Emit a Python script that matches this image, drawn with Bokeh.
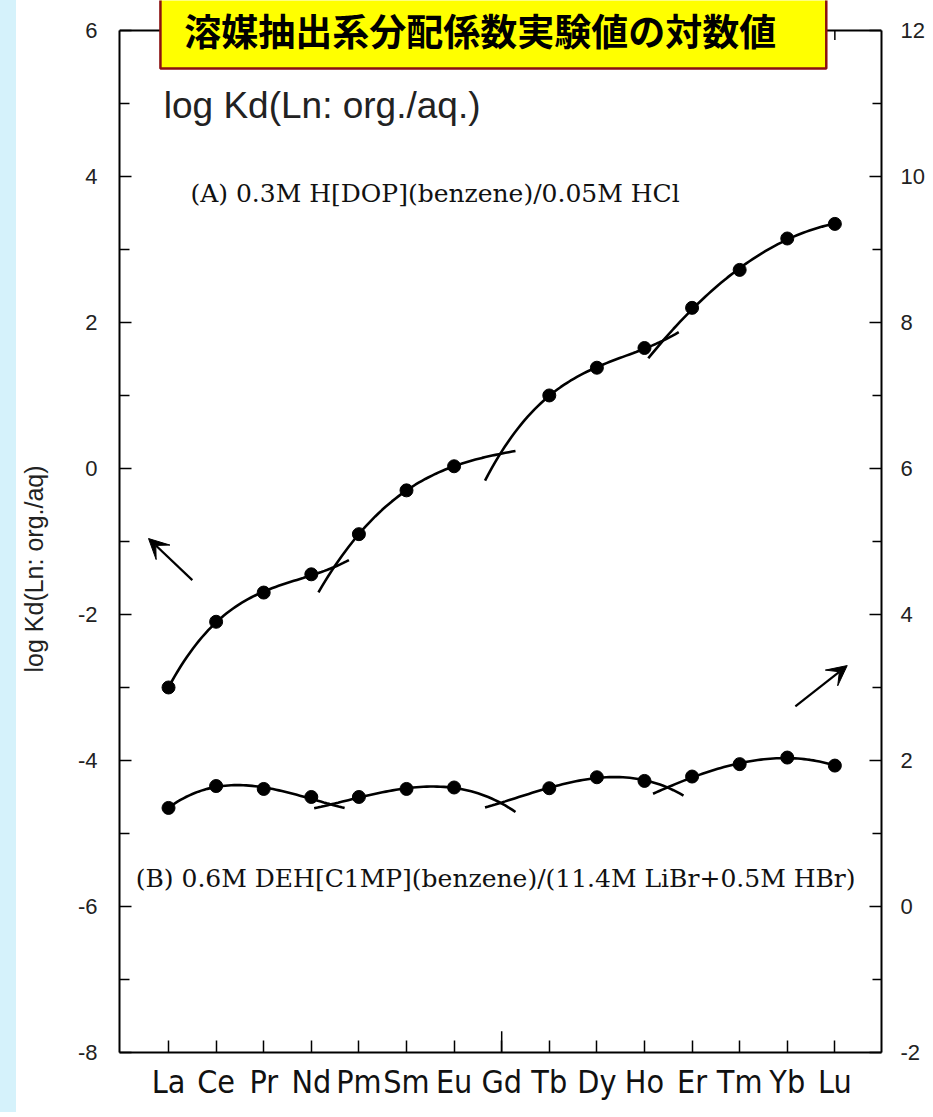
import numpy as np
from bokeh.plotting import figure
from bokeh.models import (Range1d, LinearAxis, FixedTicker, Arrow, VeeHead,
                          Label, Spacer, Title)
from bokeh.layouts import row
from bokeh.embed import file_html
from bokeh.resources import INLINE

# ---------------- data ----------------
elements = ["La", "Ce", "Pr", "Nd", "Pm", "Sm", "Eu", "Gd",
            "Tb", "Dy", "Ho", "Er", "Tm", "Yb", "Lu"]
# (A) 0.3M H[DOP](benzene)/0.05M HCl  -> left axis
logkd_A = [-3.00, -2.10, -1.70, -1.45, -0.90, -0.30, 0.03, np.nan,
           1.00, 1.38, 1.65, 2.20, 2.72, 3.15, 3.35]
# (B) 0.6M DEH[C1MP](benzene)/(11.4M LiBr+0.5M HBr) -> right axis
logkd_B = [1.35, 1.65, 1.61, 1.50, 1.50, 1.61, 1.63, np.nan,
           1.62, 1.77, 1.72, 1.78, 1.95, 2.04, 1.93]
# tetrad groups (index ranges, inclusive)
tetrads = [(0, 3), (4, 7), (7, 10), (11, 14)]
# crossing points of neighbouring tetrad curves (x index, value)
nodes_A = [(3.47, -1.36), (6.97, 0.20), (10.40, 1.75)]
nodes_B = [(3.38, 1.39), (6.97, 1.42), (10.50, 1.63)]

left_ticks = [-8, -6, -4, -2, 0, 2, 4, 6]
left_minor = [-7, -5, -3, -1, 1, 3, 5]
right_ticks = [-2, 0, 2, 4, 6, 8, 10, 12]
right_minor = [-1, 1, 3, 5, 7, 9, 11]

title_jp = "溶媒抽出系分配係数実験値の対数値"
inner_title = "log Kd(Ln: org./aq.)"
y_label = "log Kd(Ln: org./aq)"
label_A = "(A)   0.3M H[DOP](benzene)/0.05M HCl"
label_B = "(B)  0.6M DEH[C1MP](benzene)/(11.4M LiBr+0.5M HBr)"

SANS = "Liberation Sans"
NARROW = "'Liberation Sans Narrow', 'DejaVu Sans Condensed', 'Liberation Sans', sans-serif"

# ---------------- figure ----------------
X0, X1 = -1.03, 14.98
p = figure(width=917, height=1112, output_backend="svg", toolbar_location=None,
           x_range=Range1d(X0, X1), y_range=Range1d(-8, 6.41),
           min_border_left=103, min_border_right=52, min_border_top=0,
           min_border_bottom=60, outline_line_color=None,
           background_fill_color="white", border_fill_color="white")
p.xgrid.visible = False
p.ygrid.visible = False
p.extra_y_ranges = {"right": Range1d(-2, 12.41)}

# bottom axis
xa = p.xaxis[0]
xa.ticker = FixedTicker(ticks=list(range(len(elements))))
xa.major_label_overrides = {i: e for i, e in enumerate(elements)}
xa.major_tick_in = 12
xa.major_tick_out = 0
xa.minor_tick_line_color = None
xa.axis_line_width = 2
xa.major_tick_line_width = 1.5
xa.major_label_text_font = NARROW
xa.major_label_text_font_size = "32px"
xa.major_label_text_color = "#111111"
xa.major_label_standoff = 10

# left axis
ya = p.yaxis[0]
ya.bounds = (-8, 6)
ya.ticker = FixedTicker(ticks=left_ticks, minor_ticks=left_minor)
ya.major_label_overrides = {t: str(t) for t in left_ticks}
ya.major_tick_in = 12
ya.major_tick_out = 0
ya.minor_tick_in = 10
ya.minor_tick_out = 0
ya.axis_line_width = 2
ya.major_tick_line_width = 1.5
ya.minor_tick_line_width = 1.5
ya.major_label_text_font = SANS
ya.major_label_text_font_size = "22px"
ya.major_label_text_color = "#222222"
ya.major_label_standoff = 22
# blank axis label only reserves room, pushing the side title outward
ya.axis_label = " "
ya.axis_label_text_font_size = "1px"
ya.axis_label_standoff = 22

# right axis
ra = LinearAxis(y_range_name="right", bounds=(-2, 12),
                ticker=FixedTicker(ticks=right_ticks, minor_ticks=right_minor))
ra.major_label_overrides = {t: str(t) for t in right_ticks}
ra.major_tick_in = 12
ra.major_tick_out = 0
ra.minor_tick_in = 9
ra.minor_tick_out = 0
ra.axis_line_width = 2
ra.major_tick_line_width = 1.5
ra.minor_tick_line_width = 1.5
ra.major_label_text_font = SANS
ra.major_label_text_font_size = "22px"
ra.major_label_text_color = "#222222"
ra.major_label_standoff = 19
p.add_layout(ra, "right")

# vertical axis title, as a left-side title placed like the original
p.add_layout(Title(text=y_label, align="left", offset=380, standoff=2,
                   text_font=SANS, text_font_size="25px",
                   text_font_style="normal", text_color="#222222"), "left")

# top frame line and its ticks
xs_el = list(range(len(elements)))
p.segment(x0=[X0], y0=[6], x1=[X1], y1=[6], line_color="black", line_width=2)
p.segment(x0=xs_el, y0=[6] * len(xs_el), x1=xs_el, y1=[6 - 0.13] * len(xs_el),
          line_color="black", line_width=1.5)
# longer tick at Gd on bottom axis
gd = elements.index("Gd")
p.segment(x0=[gd], y0=[-8], x1=[gd], y1=[-8 + 0.29], line_color="black",
          line_width=1.5)


def tetrad_curves(vals, nodes, ext=0.32):
    curves_x, curves_y = [], []
    for k, (a, b) in enumerate(tetrads):
        px = [i for i in range(a, b + 1) if not np.isnan(vals[i])]
        py = [vals[i] for i in px]
        start, end = float(px[0]), float(px[-1])
        if k > 0:
            nx, ny = nodes[k - 1]
            px = [nx] + px
            py = [ny] + py
            start = nx - ext
        if k < len(tetrads) - 1:
            nx, ny = nodes[k]
            px = px + [nx]
            py = py + [ny]
            end = nx + ext
        deg = 3 if len(px) >= 5 else 2
        coef = np.polyfit(px, py, deg)
        xx = np.linspace(start, end, 60)
        curves_x.append(list(xx))
        curves_y.append(list(np.polyval(coef, xx)))
    return curves_x, curves_y


cxA, cyA = tetrad_curves(logkd_A, nodes_A)
cxB, cyB = tetrad_curves(logkd_B, nodes_B)
p.multi_line(cxA, cyA, line_color="black", line_width=2.6)
p.multi_line(cxB, cyB, line_color="black", line_width=2.6, y_range_name="right")

p.scatter(xs_el, logkd_A, size=13, color="black")
p.scatter(xs_el, logkd_B, size=13, color="black", y_range_name="right")

# arrows
p.add_layout(Arrow(end=VeeHead(size=20, fill_color="black", line_color="black"),
                   x_start=0.50, y_start=-1.53, x_end=-0.42, y_end=-0.96,
                   line_width=2.2, line_color="black"))
p.add_layout(Arrow(end=VeeHead(size=20, fill_color="black", line_color="black"),
                   x_start=13.17, y_start=-3.26, x_end=14.26, y_end=-2.70,
                   line_width=2.2, line_color="black"))

# annotation texts
p.add_layout(Label(x=-0.10, y=4.97, text=inner_title, text_font=SANS,
                   text_font_size="37px", text_baseline="middle",
                   text_align="left", text_color="#222222"))
p.add_layout(Label(x=0.46, y=3.76, text=label_A, text_font="DejaVu Serif",
                   text_font_size="25px", text_baseline="middle",
                   text_align="left", text_color="#111111"))
p.add_layout(Label(x=-0.69, y=-5.62, text=label_B, text_font="DejaVu Serif",
                   text_font_size="25px", text_baseline="middle",
                   text_align="left", text_color="#111111"))

# yellow title box
p.quad(left=[-0.17], right=[13.82], bottom=[5.48], top=[7.0],
       fill_color="#ffff00", line_color="#8b1010", line_width=2.5)
p.add_layout(Label(x=6.55, y=6.0, text=title_jp, text_font="Noto Sans CJK JP",
                   text_font_size="37px", text_font_style="bold",
                   text_baseline="middle", text_align="center",
                   text_color="black"))

strip = Spacer(width=16, height=1112, styles={"background-color": "#d5f2fb"})
layout = row(strip, p)

open("out.html", "w").write(file_html(layout, INLINE))
